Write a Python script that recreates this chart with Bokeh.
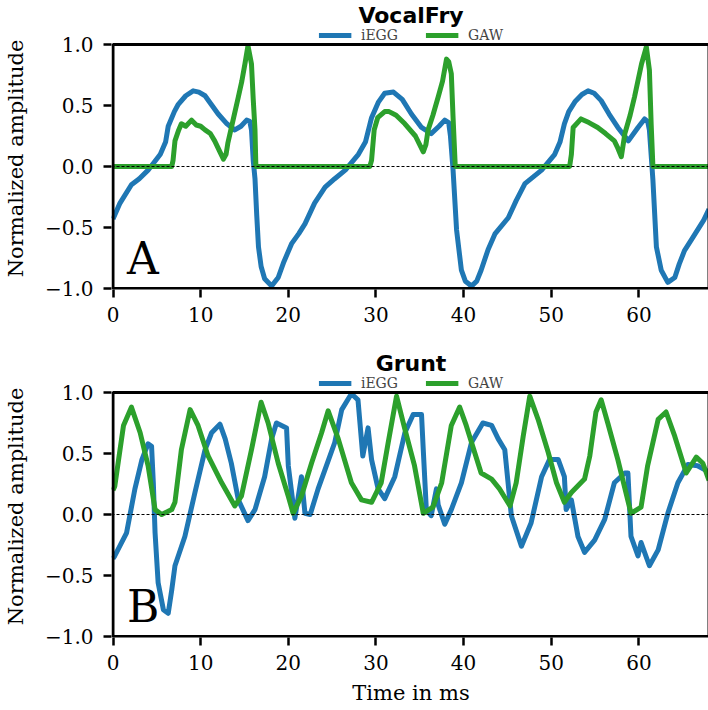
from bokeh.plotting import figure
from bokeh.models import (Range1d, FixedTicker, Span, Label, Legend, LegendItem, BoxAnnotation)
from bokeh.layouts import column
from bokeh.embed import file_html
from bokeh.resources import INLINE

# ---------------- data ----------------
x_ticks = [0, 10, 20, 30, 40, 50, 60]
y_ticks = [-1.0, -0.5, 0.0, 0.5, 1.0]
y_tick_labels = ["\u22121.0", "\u22120.5", "0.0", "0.5", "1.0"]
t_min, t_max = 0.0, 68.0
amp_min, amp_max = -1.0, 1.0

# Panel A: VocalFry
fry_t_iegg = [0.0, 0.8, 2.1, 3.0, 4.0, 5.4, 6.0, 6.3, 7.0, 7.45, 8.3, 9.15, 9.8, 10.5, 11.3,
              12.0, 13.0, 13.9, 14.6, 15.25, 15.6, 15.8, 16.0, 16.2, 16.4, 16.6, 16.9, 17.3,
              18.1, 18.85, 19.5, 20.4, 21.2, 21.9, 23.0, 24.2, 25.3, 26.5, 28.0, 28.8, 29.5,
              30.3, 31.0, 32.0, 33.0, 34.05, 35.2, 36.3, 37.2, 37.85, 38.3, 38.5, 38.8, 39.2,
              39.75, 40.2, 40.9, 41.5, 42.0, 42.8, 43.6, 45.1, 46.0, 47.0, 48.9, 50.4, 51.0,
              51.5, 52.0, 52.7, 53.5, 54.2, 54.9, 55.7, 56.6, 57.6, 58.8, 59.9, 60.65, 61.0,
              61.2, 61.6, 62.0, 62.55, 63.3, 64.1, 64.6, 65.2, 66.0, 66.7, 67.4, 68.0]
fry_iegg = [-0.43, -0.30, -0.15, -0.10, -0.03, 0.10, 0.20, 0.33, 0.45, 0.51, 0.58, 0.62, 0.61,
            0.58, 0.50, 0.43, 0.35, 0.30, 0.33, 0.38, 0.37, 0.30, 0.05, -0.10, -0.40, -0.66,
            -0.82, -0.92, -0.98, -0.91, -0.78, -0.63, -0.55, -0.47, -0.30, -0.17, -0.10, -0.03,
            0.10, 0.20, 0.40, 0.53, 0.60, 0.61, 0.55, 0.43, 0.32, 0.27, 0.33, 0.38, 0.36, 0.25,
            -0.03, -0.52, -0.85, -0.94, -0.98, -0.94, -0.85, -0.68, -0.55, -0.42, -0.28, -0.14,
            -0.03, 0.10, 0.20, 0.35, 0.45, 0.53, 0.59, 0.62, 0.60, 0.54, 0.43, 0.32, 0.21, 0.32,
            0.39, 0.37, 0.30, -0.11, -0.66, -0.85, -0.95, -0.91, -0.80, -0.69, -0.60, -0.52,
            -0.44, -0.35]

fry_t_gaw = [0.0, 6.7, 6.85, 7.07, 7.5, 7.8, 8.3, 8.96, 9.5, 10.0, 10.5, 11.1, 11.6, 12.2, 12.6,
             12.9, 13.1, 13.7, 14.3, 14.7, 15.05, 15.4, 15.8, 16.0, 16.2, 16.3, 29.3, 29.5,
             29.8, 30.2, 31.0, 31.5, 32.3, 33.3, 34.5, 35.4, 35.7, 35.95, 36.5, 37.1, 37.6,
             38.05, 38.3, 38.6, 38.8, 39.05, 52.1, 52.3, 52.5, 53.4, 54.3, 55.3, 56.2, 57.2,
             57.6, 58.0, 58.4, 59.0, 59.5, 60.3, 60.85, 61.2, 61.4, 61.6, 68.0]
fry_gaw = [0.0, 0.0, 0.05, 0.21, 0.30, 0.35, 0.33, 0.38, 0.34, 0.33, 0.30, 0.27, 0.21, 0.12,
           0.06, 0.10, 0.19, 0.38, 0.57, 0.70, 0.84, 0.99, 0.84, 0.55, 0.30, 0.0, 0.0, 0.05,
           0.30, 0.40, 0.45, 0.45, 0.42, 0.35, 0.25, 0.12, 0.18, 0.30, 0.42, 0.57, 0.70, 0.88,
           0.86, 0.76, 0.40, 0.0, 0.0, 0.10, 0.32, 0.39, 0.36, 0.32, 0.27, 0.21, 0.15, 0.08,
           0.27, 0.42, 0.57, 0.84, 0.98, 0.79, 0.35, 0.0, 0.0]

# Panel B: Grunt
grunt_t_iegg = [0.0, 0.2, 1.55, 2.5, 3.3, 4.0, 4.4, 4.6, 4.8, 5.15, 5.75, 6.3, 6.7, 7.07, 8.2,
                9.35, 10.5, 11.25, 12.2, 12.8, 13.5, 14.3, 15.4, 16.2, 17.3, 18.1, 18.65, 19.8,
                20.0, 20.75, 21.5, 21.9, 22.5, 23.4, 24.2, 25.3, 26.1, 27.2, 27.95, 28.5, 29.1,
                29.5, 30.25, 31.0, 32.15, 33.3, 34.25, 35.2, 35.4, 35.75, 36.3, 36.9, 37.1,
                37.85, 38.6, 39.75, 40.9, 42.2, 43.2, 43.95, 44.7, 45.45, 46.6, 47.7, 48.9,
                49.8, 50.8, 51.5, 51.7, 52.3, 53.05, 53.8, 54.95, 56.1, 57.2, 58.4, 58.75, 59.1,
                59.9, 60.25, 61.2, 62.2, 63.3, 64.45, 65.6, 66.7, 67.7, 68.0]
grunt_iegg = [-0.36, -0.34, -0.15, 0.21, 0.45, 0.58, 0.56, 0.26, -0.15, -0.56, -0.78, -0.81,
              -0.62, -0.42, -0.18, 0.18, 0.53, 0.67, 0.74, 0.62, 0.42, 0.12, -0.05, 0.04, 0.31,
              0.62, 0.75, 0.71, 0.40, -0.03, 0.31, 0.01, 0.0, 0.21, 0.37, 0.59, 0.86, 0.99, 0.94,
              0.48, 0.71, 0.45, 0.21, 0.13, 0.31, 0.67, 0.82, 0.82, 0.53, 0.04, -0.01, 0.21,
              0.08, -0.08, 0.04, 0.26, 0.59, 0.75, 0.73, 0.62, 0.53, -0.01, -0.26, -0.07, 0.31,
              0.45, 0.45, 0.31, 0.04, 0.12, -0.18, -0.31, -0.21, -0.04, 0.26, 0.34, 0.34, -0.18,
              -0.34, -0.23, -0.42, -0.29, 0.01, 0.26, 0.41, 0.40, 0.36, 0.33]

grunt_t_gaw = [0.0, 0.2, 1.2, 2.1, 3.1, 4.0, 4.8, 5.55, 6.7, 7.07, 7.8, 8.8, 9.7, 10.85, 12.4,
               13.9, 14.65, 15.8, 16.9, 17.7, 18.85, 20.0, 20.55, 21.5, 22.65, 23.8, 24.55,
               25.7, 27.2, 28.35, 29.5, 30.6, 31.4, 32.35, 33.3, 34.4, 35.4, 36.5, 37.5, 38.6,
               39.55, 40.3, 42.0, 43.2, 44.1, 45.3, 46.0, 46.8, 47.55, 48.5, 49.65, 50.6, 51.5,
               52.3, 53.8, 54.4, 55.1, 55.7, 56.45, 57.6, 59.1, 60.25, 61.0, 62.2, 63.1, 64.1,
               65.4, 66.55, 67.3, 68.0]
grunt_gaw = [0.20, 0.23, 0.73, 0.88, 0.67, 0.40, 0.04, 0.0, 0.04, 0.10, 0.53, 0.86, 0.73, 0.48,
             0.26, 0.07, 0.15, 0.53, 0.92, 0.75, 0.42, 0.15, 0.01, 0.15, 0.42, 0.67, 0.85, 0.62,
             0.26, 0.12, 0.10, 0.26, 0.59, 0.97, 0.70, 0.40, 0.01, 0.06, 0.26, 0.73, 0.88, 0.73,
             0.34, 0.29, 0.21, 0.07, 0.26, 0.64, 0.97, 0.78, 0.51, 0.26, 0.10, 0.18, 0.29, 0.48,
             0.84, 0.94, 0.75, 0.45, 0.01, 0.06, 0.40, 0.78, 0.84, 0.64, 0.34, 0.47, 0.42, 0.28]

BLUE = "#1f77b4"
GREEN = "#2ca02c"
SERIF = "DejaVu Serif"

# layout geometry (pixels)
PX_X = 596 / (t_max - t_min)      # pixels per ms inside the axes box
PX_Y = 244 / (amp_max - amp_min)  # pixels per amplitude unit
PAD = 1.5                          # keeps the box line fully inside the frame
HEAD = 17                          # room above the box for the legend (inside the frame)
FRAME_W = 599
FRAME_H = 244 + HEAD + 1


def make_panel(title, letter, t1, y1, t2, y2, bottom, xlabel):
    x0 = t_min - PAD / PX_X
    x1 = t_max + PAD / PX_X
    ylo = amp_min - 1.0 / PX_Y
    yhi = amp_max + HEAD / PX_Y
    p = figure(frame_width=FRAME_W, frame_height=FRAME_H, output_backend="svg",
               toolbar_location=None,
               x_range=Range1d(x0, x1), y_range=Range1d(ylo, yhi),
               min_border_left=107, min_border_right=2, min_border_top=27,
               min_border_bottom=bottom, background_fill_color="white",
               border_fill_color="white")
    p.title.text = title
    p.title.align = "center"
    p.title.text_font = "DejaVu Sans"
    p.title.text_font_size = "22px"
    p.title.text_font_style = "bold"
    p.title.text_color = "black"
    p.title.standoff = 0
    p.grid.visible = False
    p.outline_line_color = None

    p.add_layout(BoxAnnotation(left=t_min, right=t_max, bottom=amp_min, top=amp_max,
                               fill_alpha=0, line_color="black", line_width=3,
                               line_alpha=1))
    p.add_layout(Span(location=0, dimension="width", line_color="black",
                      line_width=1, line_dash="3 2"))
    r1 = p.line(t1, y1, line_color=BLUE, line_width=5, line_join="round")
    r2 = p.line(t2, y2, line_color=GREEN, line_width=5, line_join="round")

    for ax in (p.xaxis[0], p.yaxis[0]):
        ax.axis_line_color = None
        ax.major_tick_line_width = 2.5
        ax.major_tick_out = 8
        ax.major_tick_in = 0
        ax.minor_tick_line_color = None
        ax.major_label_text_font = SERIF
        ax.major_label_text_font_size = "20px"
        ax.major_label_text_color = "black"
        ax.axis_label_text_font = SERIF
        ax.axis_label_text_font_size = "21px"
        ax.axis_label_text_font_style = "normal"
        ax.axis_label_text_color = "black"

    p.xaxis.ticker = FixedTicker(ticks=x_ticks)
    p.yaxis.ticker = FixedTicker(ticks=y_ticks)
    p.yaxis.major_label_overrides = {v: s for v, s in zip(y_ticks, y_tick_labels)}
    p.yaxis.axis_label = "Normalized amplitude"
    p.yaxis.axis_label_standoff = 14
    p.yaxis.major_label_standoff = 10
    p.xaxis.major_label_standoff = 9
    if xlabel:
        p.xaxis.axis_label = xlabel
        p.xaxis.axis_label_standoff = 8

    p.add_layout(Label(x=1.6, y=-0.75, text=letter, text_font=SERIF,
                       text_font_size="44px", text_color="black",
                       text_baseline="alphabetic"))

    legend = Legend(items=[LegendItem(label="iEGG", renderers=[r1]),
                           LegendItem(label="GAW", renderers=[r2])],
                    orientation="horizontal", location="top_center",
                    border_line_alpha=0, background_fill_alpha=0,
                    label_text_font=SERIF, label_text_font_size="14px",
                    glyph_width=33, glyph_height=12, label_height=12,
                    label_standoff=10, spacing=27, padding=0, margin=0)
    p.add_layout(legend)
    return p


p1 = make_panel("VocalFry", "A", fry_t_iegg, fry_iegg, fry_t_gaw, fry_gaw, 59, None)
p2 = make_panel("Grunt", "B", grunt_t_iegg, grunt_iegg, grunt_t_gaw, grunt_gaw, 73,
                "Time in ms")

p = column(p1, p2, spacing=0)
open("out.html", "w").write(file_html(p, INLINE))
